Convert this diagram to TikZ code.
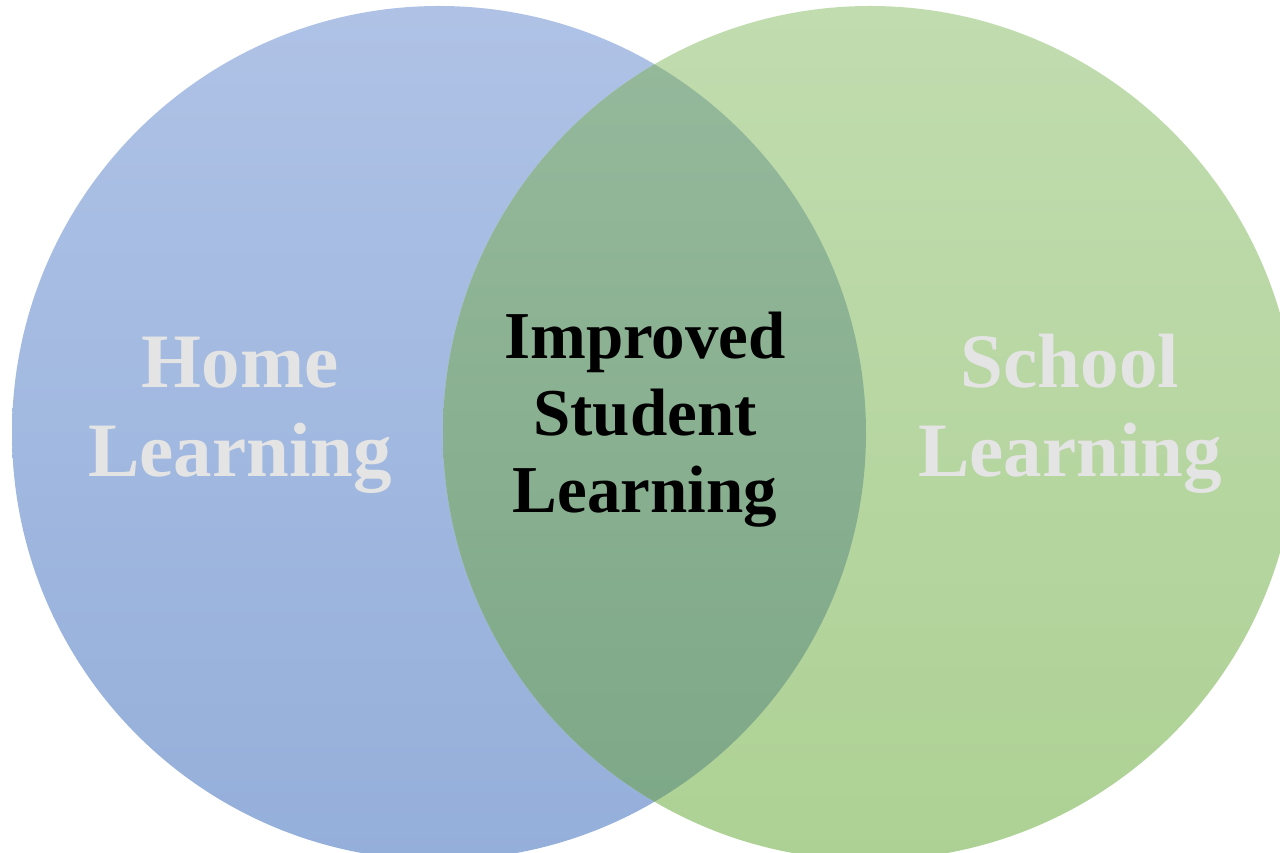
\documentclass[tikz,border=0pt]{standalone}
\usepackage{fontspec}
\setmainfont{Liberation Serif}
\definecolor{bluetop}{HTML}{AFC2E6}
\definecolor{bluebot}{HTML}{94AFDA}
\definecolor{greentop}{HTML}{C1DCAF}
\definecolor{greenbot}{HTML}{ADD194}
\definecolor{midtop}{HTML}{96B99C}
\definecolor{midbot}{HTML}{7CA786}
\definecolor{lightgray}{HTML}{E4E4E4}
\tikzset{
  sidetext/.style={align=center, text=lightgray, font=\fontsize{77}{89}\selectfont\bfseries, anchor=base, inner sep=0pt},
  midtext/.style={align=center, text=black, font=\fontsize{67}{77}\selectfont\bfseries, anchor=base, inner sep=0pt}
}
\begin{document}
\begin{tikzpicture}[x=1pt,y=1pt]
\useasboundingbox (0,0) rectangle (1280,853);
\clip (0,0) rectangle (1280,853);
\shade[top color=bluetop, bottom color=bluebot] (439,420) circle[radius=427];
\shade[top color=greentop, bottom color=greenbot] (870,420) circle[radius=427];
\begin{scope}
\clip (439,420) circle[radius=427];
\shade[top color=midtop, bottom color=midbot] (870,420) circle[radius=427];
\end{scope}
\node[sidetext] (home) at (240,376) {Home\\Learning};
\node[sidetext] (school) at (1070,376) {School\\Learning};
\node[midtext] (mid) at (645,340) {Improved\\Student\\Learning};
\end{tikzpicture}
\end{document}
